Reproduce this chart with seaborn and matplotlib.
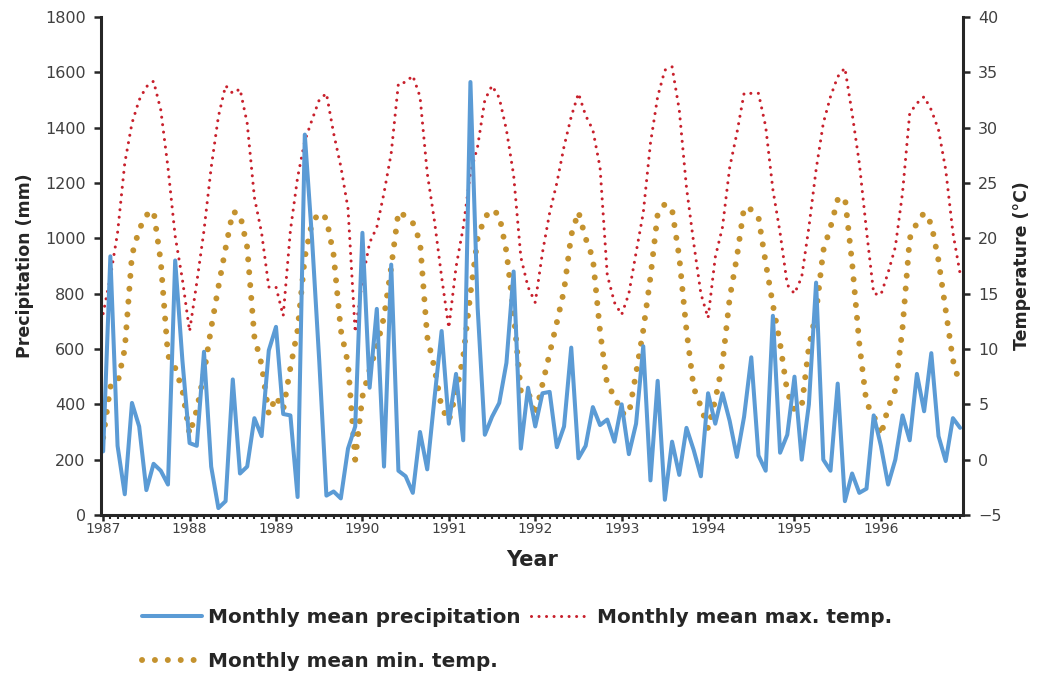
import numpy as np
import pandas as pd
import matplotlib
matplotlib.use("Agg")
import matplotlib.pyplot as plt
import seaborn as sns

# ---------------- data ----------------
years = [1987, 1988, 1989, 1990, 1991, 1992, 1993, 1994, 1995, 1996]

precip = [230, 935, 250, 75, 405, 320, 90, 185, 160, 110, 920, 560,
          260, 250, 590, 175, 25, 50, 490, 150, 175, 350, 285, 595,
          680, 365, 360, 65, 1375, 1000, 560, 70, 85, 60, 240, 320,
          1020, 460, 745, 175, 905, 160, 140, 80, 300, 165, 420, 665,
          330, 510, 270, 1565, 750, 290, 355, 405, 550, 880, 240, 460,
          320, 440, 445, 245, 320, 605, 205, 250, 390, 325, 345, 265,
          400, 220, 330, 610, 125, 485, 55, 265, 145, 315, 235, 140,
          440, 330, 440, 340, 210, 355, 570, 215, 160, 720, 225, 290,
          500, 200, 400, 840, 200, 160, 475, 50, 150, 80, 95, 360,
          250, 110, 200, 360, 270, 510, 375, 585, 285, 195, 350, 315]

tmax = [13.2, 16.5, 20.5, 26.8, 30.4, 32.5, 33.7, 34.2, 31.6, 26.4, 20.2, 16.3,
        11.6, 16.0, 20.7, 26.4, 31.0, 33.8, 33.1, 33.5, 30.4, 23.7, 20.5, 15.6,
        15.6, 13.0, 20.7, 25.5, 28.8, 30.7, 32.5, 33.1, 29.5, 26.5, 22.7, 11.5,
        16.2, 19.6, 21.0, 24.1, 27.7, 34.0, 34.1, 34.7, 32.8, 25.9, 21.6, 16.5,
        11.9, 17.4, 21.0, 25.9, 28.3, 32.5, 33.8, 32.7, 29.8, 25.7, 18.3, 15.6,
        14.2, 18.7, 22.3, 25.0, 28.3, 31.0, 33.1, 31.1, 29.8, 26.4, 16.7, 14.2,
        13.1, 15.0, 18.7, 22.3, 28.6, 32.8, 35.2, 35.5, 31.6, 24.6, 19.6, 15.0,
        12.8, 18.3, 21.0, 26.4, 29.5, 33.1, 33.1, 33.1, 30.1, 24.4, 20.5, 15.8,
        15.0, 16.5, 21.0, 26.2, 30.4, 32.8, 34.6, 35.4, 31.3, 26.8, 20.7, 15.0,
        14.9, 16.9, 19.2, 24.1, 31.3, 32.2, 32.8, 31.6, 29.8, 26.2, 20.5, 16.8]

tmin = [2.0, 6.6, 6.9, 10.0, 18.5, 20.8, 22.1, 22.5, 17.9, 9.4, 8.3, 6.3,
        2.3, 4.5, 7.8, 11.9, 15.6, 19.1, 22.4, 22.2, 19.2, 11.1, 8.6, 4.1,
        5.7, 4.5, 8.3, 11.7, 18.3, 21.4, 22.3, 21.8, 18.5, 11.7, 8.7, 0.0,
        5.7, 8.1, 10.2, 12.9, 17.4, 22.4, 22.0, 21.4, 19.7, 11.1, 8.3, 4.7,
        3.5, 6.0, 9.3, 15.0, 20.0, 21.9, 22.6, 22.1, 18.8, 13.3, 6.2, 6.2,
        4.0, 6.8, 9.6, 12.4, 15.3, 20.3, 22.4, 20.0, 18.2, 11.6, 6.7, 5.8,
        4.2, 4.1, 7.8, 11.7, 16.5, 22.2, 23.1, 22.6, 18.3, 11.7, 6.5, 4.8,
        2.8, 5.4, 8.7, 14.6, 18.3, 22.8, 22.6, 21.9, 17.8, 14.0, 10.5, 6.1,
        4.5, 4.8, 10.2, 13.3, 18.9, 21.0, 23.5, 23.7, 17.8, 10.5, 5.1, 4.0,
        2.2, 4.7, 6.3, 11.9, 20.0, 21.4, 22.3, 21.3, 18.0, 13.5, 9.0, 6.7]

labels = ["Monthly mean precipitation", "Monthly mean max. temp.",
          "Monthly mean min. temp."]

df = pd.DataFrame({"month": np.arange(len(precip)), "precip": precip,
                   "tmax": tmax, "tmin": tmin})

# ---------------- style ----------------
sns.set_theme(style="white")
plt.rcParams["font.family"] = ["DejaVu Sans"]

BLUE = "#5B9BD5"
RED = "#C8202C"
GOLD = "#C4922E"
AXC = "#262626"
TXT = "#404040"

fig = plt.figure(figsize=(10.38, 6.73), dpi=100)
ax = fig.add_axes([101 / 1038, 1 - 515 / 673, 862 / 1038, 498 / 673])
ax2 = ax.twinx()

sns.lineplot(data=df, x="month", y="precip", ax=ax, color=BLUE, lw=2.9,
             legend=False)
l_prec = ax.lines[-1]

sns.lineplot(data=df, x="month", y="tmax", ax=ax2, color=RED, lw=2.2,
             legend=False)
l_max = ax2.lines[-1]
l_max.set_dash_capstyle("round")
l_max.set_linestyle((0, (0.01, 2.45)))

sns.lineplot(data=df, x="month", y="tmin", ax=ax2, color=GOLD, lw=4.3,
             legend=False)
l_min = ax2.lines[-1]
l_min.set_dash_capstyle("round")
l_min.set_linestyle((0, (0.01, 2.15)))

# ---------------- axes ----------------
ax.set_xlim(-0.3, 119.4)
ax.set_ylim(0, 1800)
ax.set_yticks(np.arange(0, 1801, 200))
ax2.set_ylim(-5, 40)
ax2.set_yticks(np.arange(-5, 41, 5))

ax.set_xticks(np.arange(0, 120, 12))
ax.set_xticklabels([str(y) for y in years])
ax.set_xticks(np.arange(0, 120, 1), minor=True)

for a in (ax, ax2):
    for s in a.spines.values():
        s.set_visible(False)
    a.grid(False)
ax.spines["left"].set_visible(True)
ax.spines["bottom"].set_visible(True)
ax2.spines["right"].set_visible(True)
for s in (ax.spines["left"], ax.spines["bottom"], ax2.spines["right"]):
    s.set_color(AXC)
    s.set_linewidth(2.2)

ax.tick_params(axis="y", which="major", direction="out", length=5, width=1.8,
               color=AXC, labelsize=11.5, labelcolor=TXT, left=True, pad=6)
ax2.tick_params(axis="y", which="major", direction="out", length=5, width=1.8,
                color=AXC, labelsize=11.5, labelcolor=TXT, right=True, pad=6)
ax.tick_params(axis="x", which="major", direction="out", length=4, width=1.8,
               color=AXC, labelsize=10, labelcolor=TXT, bottom=True, pad=1)
ax.tick_params(axis="x", which="minor", direction="out", length=3, width=1.5,
               color=AXC, bottom=True)

ax.set_xlabel("Year", fontsize=15, fontweight="bold", color=AXC, labelpad=10)
ax.set_ylabel("Precipitation (mm)", fontsize=12.5, fontweight="bold",
              color=AXC, labelpad=8)
ax2.set_ylabel("Temperature (°C)", fontsize=12.5, fontweight="bold",
               color=AXC, labelpad=8)

ax.set_zorder(ax2.get_zorder() + 1)
ax.patch.set_visible(False)

leg = fig.legend(handles=[l_prec, l_min, l_max],
                 labels=[labels[0], labels[2], labels[1]],
                 ncol=2, loc="upper left",
                 bbox_to_anchor=(142 / 1038, 1 - 608 / 673),
                 frameon=False, borderpad=0, borderaxespad=0,
                 handlelength=3.0, handletextpad=0.3, columnspacing=0.5,
                 labelspacing=1.25,
                 prop={"weight": "bold", "size": 14.4})
for t in leg.get_texts():
    t.set_color(AXC)

fig.savefig("out.png", dpi=100)
